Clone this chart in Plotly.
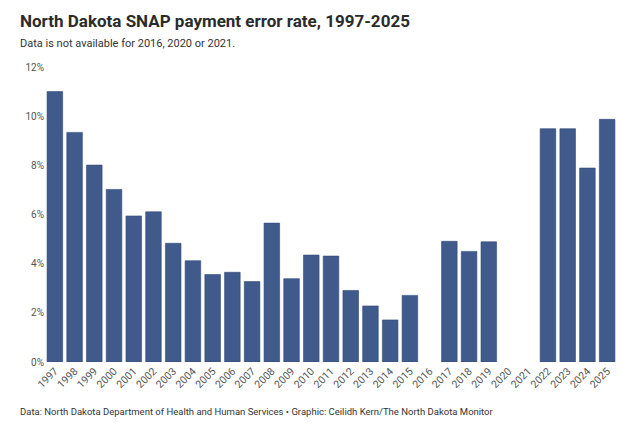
import plotly.graph_objects as go

# Годы и значения (нет данных за 2016, 2020, 2021)
years = [str(y) for y in range(1997, 2026)]
rates = [11.0, 9.34, 8.01, 7.02, 5.94, 6.11, 4.83, 4.12, 3.56, 3.65,
         3.27, 5.65, 3.39, 4.35, 4.31, 2.91, 2.28, 1.71, 2.71, None,
         4.91, 4.50, 4.89, None, None, 9.49, 9.49, 7.89, 9.87]
y_ticks = [0, 2, 4, 6, 8, 10, 12]
y_labels = [f"{t}%" for t in y_ticks]

title = "North Dakota SNAP payment error rate, 1997-2025"
subtitle = "Data is not available for 2016, 2020 or 2021."
source = ("Data: North Dakota Department of Health and Human Services \u2022 "
          "Graphic: Ceilidh Kern/The North Dakota Monitor")

fig = go.Figure(go.Bar(
    x=years, y=rates,
    marker=dict(color="#3f5a8b", line=dict(color="#33497a", width=0.6)),
    hoverinfo="x+y",
))

fig.update_layout(
    width=640, height=424,
    margin=dict(l=45, r=23, t=67, b=62),
    paper_bgcolor="white", plot_bgcolor="white",
    font=dict(family="Roboto, sans-serif", color="#555555"),
    bargap=0.21,
    showlegend=False,
    annotations=[
        dict(text="<b>" + title + "</b>", xref="paper", yref="paper",
             x=-0.047, y=1.155, xanchor="left", yanchor="middle",
             showarrow=False, font=dict(size=17, color="#2b2b2b")),
        dict(text=subtitle, xref="paper", yref="paper",
             x=-0.047, y=1.078, xanchor="left", yanchor="middle",
             showarrow=False, font=dict(size=11, color="#333333")),
        dict(text=source, xref="paper", yref="paper",
             x=-0.047, y=-0.167, xanchor="left", yanchor="middle",
             showarrow=False, font=dict(size=9.5, color="#333333")),
    ],
)
fig.update_xaxes(type="category", tickangle=-45, tickfont=dict(size=10.5, color="#555555"),
                 showgrid=False, showline=False, ticks="")
fig.update_yaxes(range=[0, 12], tickvals=y_ticks, ticktext=y_labels,
                 tickfont=dict(size=10, color="#555555"),
                 showgrid=False, zeroline=False, showline=False, ticks="")

# убрать отступ страницы, чтобы график начинался с левого верхнего угла
fig.write_html("out.html", config={"displayModeBar": False},
               post_script="document.body.style.margin='0';")
